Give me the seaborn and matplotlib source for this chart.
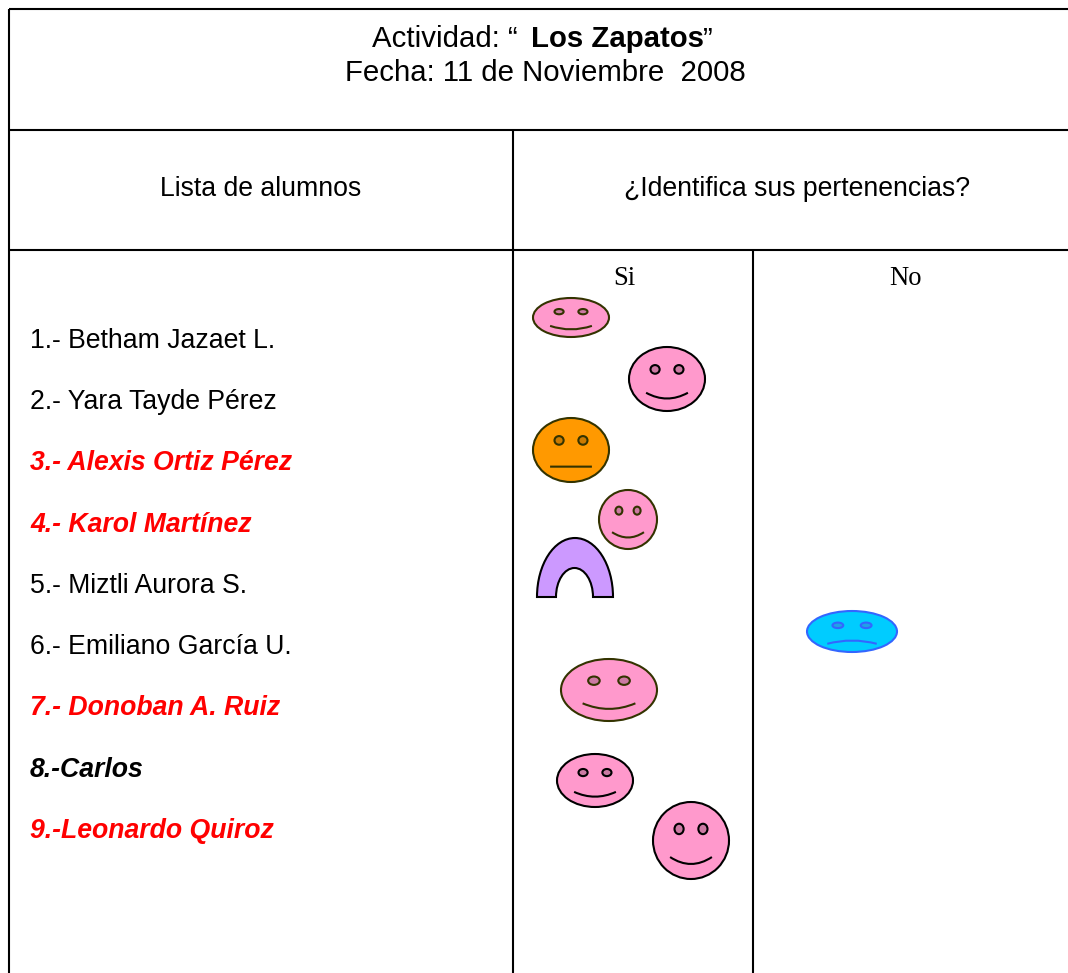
import matplotlib
matplotlib.use("Agg")
import matplotlib.pyplot as plt
import pandas as pd
import seaborn as sns
from matplotlib.patches import Ellipse, PathPatch
from matplotlib.path import Path

# ---- texts ----
title_open = "Actividad: “"
title_bold = "Los Zapatos"
title_close = "”"
date_text = "Fecha: 11 de Noviembre  2008"
col_students = "Lista de alumnos"
col_question = "¿Identifica sus pertenencias?"
col_yes = "Si"
col_no = "No"
students = ["1.- Betham Jazaet L.", "2.- Yara Tayde Pérez", "3.- Alexis Ortiz Pérez",
            "4.- Karol Martínez", "5.- Miztli Aurora S.", "6.- Emiliano García U.",
            "7.- Donoban A. Ruiz", "8.-Carlos", "9.-Leonardo Quiroz"]
student_color = ["black", "black", "red", "red", "black", "black", "red", "black", "red"]
student_bold = [False, False, True, True, False, False, True, True, True]
student_base = [348, 409, 470, 532, 593, 654, 715, 777, 838]

# ---- table rules ----
rule_id = [0, 0, 1, 1, 2, 2, 3, 3, 4, 4, 5, 5]
rule_x = [9, 1068, 9, 1068, 9, 1068, 9, 9, 513, 513, 753, 753]
rule_y = [9, 9, 130, 130, 250, 250, 9, 973, 130, 973, 250, 973]

# ---- faces (left, right, top, bottom, mood, fill, edge, eye fill) ----
face_left = [533, 629, 533, 599, 807, 561, 557, 653]
face_right = [609, 705, 609, 657, 897, 657, 633, 729]
face_top = [298, 347, 418, 490, 611, 659, 754, 802]
face_bottom = [337, 411, 482, 549, 652, 721, 807, 879]
face_mood = ["happy", "happy", "flat", "happy", "sad", "happy", "happy", "happy"]
face_fill = ["#ff99cc", "#ff99cc", "#ff9900", "#ff99cc", "#00ccff", "#ff99cc", "#ff99cc", "#ff99cc"]
face_edge = ["#333300", "black", "#333300", "#333300", "#3366ff", "#333300", "black", "black"]
eye_fill = ["#cc7aa3", "#cc7aa3", "#cc7a00", "#cc7aa3", "#1fa3e6", "#cc7aa3", "#cc7aa3", "#cc7aa3"]

# ---- arch ----
arch_outer = (537, 613, 538, 597)
arch_inner = (556, 593, 568, 597)
arch_fill = "#cc99ff"

sns.set_theme(style="white", rc={"axes.facecolor": "white", "figure.facecolor": "white"})
plt.rcParams["font.family"] = ["Liberation Sans", "DejaVu Sans"]

fig = plt.figure(figsize=(10.68, 9.73), dpi=100)
ax = fig.add_axes([0, 0, 1, 1])

rules = pd.DataFrame({"rule": rule_id, "x": rule_x, "y": rule_y})
sns.lineplot(data=rules, x="x", y="y", units="rule", estimator=None, sort=False,
             color="black", linewidth=1.5, ax=ax, legend=False)
for ln in ax.get_lines():
    ln.set_solid_capstyle("butt")

ax.set_xlim(0, 1068)
ax.set_ylim(973, 0)
ax.set_axis_off()

FS = 19.15
FT = 21.2
ax.text(372, 47, title_open, fontsize=FT, va="baseline", ha="left", color="black")
ax.text(531, 47, title_bold, fontsize=FT, fontweight="bold", va="baseline", ha="left", color="black")
ax.text(703, 47, title_close, fontsize=FT, va="baseline", ha="left", color="black")
ax.text(545, 81, date_text, fontsize=FT, va="baseline", ha="center", color="black")
ax.text(261, 196, col_students, fontsize=FS, va="baseline", ha="center", color="black")
ax.text(797, 196, col_question, fontsize=FS, va="baseline", ha="center", color="black")
ax.text(624, 285, col_yes, fontsize=FS, family="Liberation Serif", va="baseline", ha="center", color="black")
ax.text(905, 285, col_no, fontsize=FS, family="Liberation Serif", va="baseline", ha="center", color="black")

for name, col, bold, y in zip(students, student_color, student_bold, student_base):
    ax.text(30, y, name, fontsize=FS, color=col,
            fontweight="bold" if bold else "normal",
            fontstyle="italic" if bold else "normal",
            va="baseline", ha="left")

LW = 1.5
for l, r, t, b, mood, fill, edge, eye in zip(face_left, face_right, face_top, face_bottom,
                                             face_mood, face_fill, face_edge, eye_fill):
    w, h = r - l, b - t
    cx, cy = (l + r) / 2, (t + b) / 2
    ax.add_patch(Ellipse((cx, cy), w, h, facecolor=fill, edgecolor=edge, linewidth=LW, zorder=3))
    for sgn in (-1, 1):
        ax.add_patch(Ellipse((cx + sgn * 0.157 * w, cy - 0.15 * h), 0.12 * w, 0.135 * h,
                             facecolor=eye, edgecolor=edge, linewidth=LW, zorder=4))
    if mood == "happy":
        end, mid = 0.215, 0.305
    elif mood == "sad":
        end, mid = 0.30, 0.22
    else:
        end, mid = 0.26, 0.26
    y_end = cy + end * h
    y_ctrl = y_end + 2 * (mid - end) * h
    mouth = Path([(cx - 0.275 * w, y_end), (cx, y_ctrl), (cx + 0.275 * w, y_end)],
                 [Path.MOVETO, Path.CURVE3, Path.CURVE3])
    ax.add_patch(PathPatch(mouth, facecolor="none", edgecolor=edge, linewidth=LW, zorder=4))

K = 0.5523
ol, or_, ot, ob = arch_outer
il, ir, it, ib = arch_inner
ocx, icx = (ol + or_) / 2, (il + ir) / 2
orx, irx = (or_ - ol) / 2, (ir - il) / 2
verts = [(ol, ob),
         (ol, ob - K * (ob - ot)), (ocx - K * orx, ot), (ocx, ot),
         (ocx + K * orx, ot), (or_, ob - K * (ob - ot)), (or_, ob),
         (ir, ib),
         (ir, ib - K * (ib - it)), (icx + K * irx, it), (icx, it),
         (icx - K * irx, it), (il, ib - K * (ib - it)), (il, ib),
         (ol, ob)]
codes = [Path.MOVETO] + [Path.CURVE4] * 6 + [Path.LINETO] + [Path.CURVE4] * 6 + [Path.CLOSEPOLY]
ax.add_patch(PathPatch(Path(verts, codes), facecolor=arch_fill, edgecolor="black", linewidth=LW, zorder=3))

fig.savefig("out.png", dpi=100, facecolor="white")
